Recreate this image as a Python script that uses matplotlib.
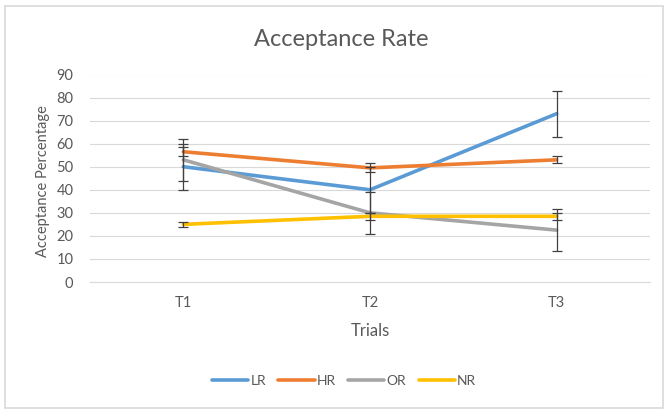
import matplotlib
matplotlib.use("Agg")
import matplotlib.pyplot as plt
from matplotlib.patches import Rectangle

plt.rcParams['font.family'] = ['Lato', 'DejaVu Sans']

trials = ["T1", "T2", "T3"]
series_names = ["LR", "HR", "OR", "NR"]
lr = [50, 40, 73]
hr = [56.5, 49.5, 53]
or_ = [53, 30, 22.5]
nr = [25, 28.5, 28.5]
lr_err = [10, 10, 10]
hr_err = [2, 2, 1.5]
or_err = [9, 9, 9]
nr_err = [1, 1.5, 1.5]
yticks = [0, 10, 20, 30, 40, 50, 60, 70, 80, 90]

values = [lr, hr, or_, nr]
errors = [lr_err, hr_err, or_err, nr_err]
colors = ["#5B9BD5", "#ED7D31", "#A5A5A5", "#FFC000"]

W, H = 665, 409
fig = plt.figure(figsize=(W / 100, H / 100), dpi=100)
fig.patch.set_facecolor("white")
# outer chart border
fig.add_artist(Rectangle((5 / W, 1 / H), (W - 7) / W, (H - 7) / H, transform=fig.transFigure,
                         fill=False, edgecolor="#D9D9D9", linewidth=1.2))

ax = fig.add_axes([90 / W, (H - 282) / H, 560 / W, (282 - 74.5) / H])
x = list(range(len(trials)))
handles = []
for name, vals, col in zip(series_names, values, colors):
    h, = ax.plot(x, vals, color=col, linewidth=2.6, solid_capstyle="round", zorder=3, label=name)
    handles.append(h)
for vals, errs in zip(values, errors):
    ax.errorbar(x, vals, yerr=errs, fmt="none", ecolor="#404040", elinewidth=0.9,
                capsize=3.3, capthick=0.9, zorder=4)

ax.set_xlim(-0.5, 2.5)
ax.set_ylim(0, 90)
ax.set_yticks(yticks)
ax.set_xticks(x)
ax.set_xticklabels(trials)
ax.grid(axis="y", color="#D9D9D9", linewidth=0.8)
ax.set_axisbelow(True)
for s in ["top", "right", "left"]:
    ax.spines[s].set_visible(False)
ax.spines["bottom"].set_color("#D9D9D9")
ax.spines["bottom"].set_linewidth(0.8)
ax.tick_params(axis="both", length=0, labelsize=10.5, labelcolor="#595959")
ax.tick_params(axis="y", pad=12)
ax.tick_params(axis="x", pad=10)

fig.text(341 / W, 1 - 40 / H, "Acceptance Rate", ha="center", va="center",
         fontsize=17, color="#595959")
fig.text(370 / W, 1 - 331 / H, "Trials", ha="center", va="center", fontsize=12, color="#595959")
fig.text(43 / W, 1 - 181 / H, "Acceptance Percentage", ha="center", va="center",
         rotation=90, fontsize=10.5, color="#595959")

leg = fig.legend(handles=handles, loc="center", bbox_to_anchor=(344 / W, 1 - 381 / H),
                 ncol=4, frameon=False, fontsize=10, handlelength=2.6, handletextpad=0.15,
                 columnspacing=0.9)
for t in leg.get_texts():
    t.set_color("#595959")

fig.savefig("out.png", dpi=100, facecolor="white")
